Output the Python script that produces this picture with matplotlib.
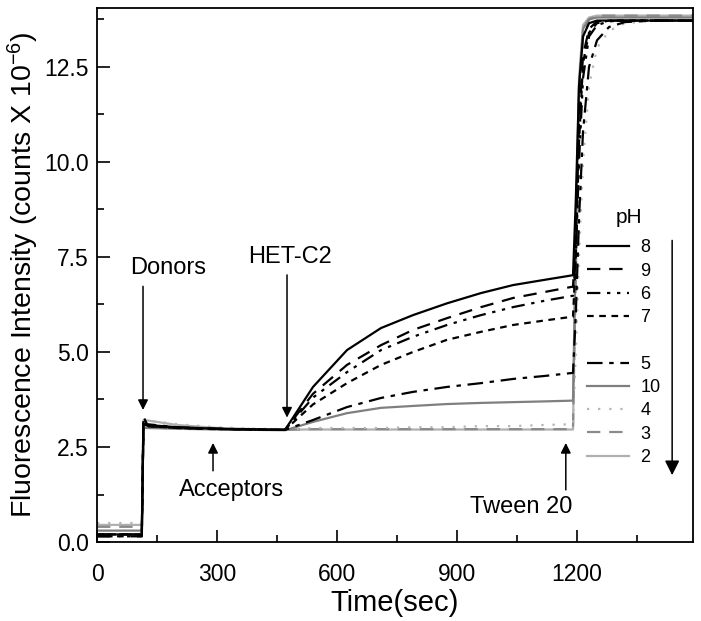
import numpy as np
import matplotlib.pyplot as plt
import matplotlib as mpl
from matplotlib.lines import Line2D

mpl.rcParams.update({'font.family': ['Liberation Sans', 'DejaVu Sans'],
                     'mathtext.fontset': 'custom',
                     'mathtext.rm': 'Liberation Sans',
                     'mathtext.it': 'Liberation Sans:italic'})

# time points (sec)
t = [0, 112, 116, 125, 200, 300, 400, 470, 540, 625, 710, 790, 875, 960, 1040, 1120, 1190,
     1197, 1205, 1215, 1230, 1250, 1280, 1320, 1400, 1490]

# fluorescence (counts x 1e-6), one list per pH
ph8 = [0.2, 0.2, 3.12, 3.08, 3.02, 2.98, 2.96, 2.95, 4.08, 5.05, 5.63, 5.97, 6.28, 6.55, 6.76, 6.90, 7.02,
       9.0, 12.0, 13.3, 13.65, 13.72, 13.72, 13.72, 13.72, 13.72]
ph9 = [0.2, 0.2, 3.10, 3.06, 3.01, 2.98, 2.96, 2.95, 3.90, 4.66, 5.18, 5.58, 5.89, 6.18, 6.42, 6.58, 6.72,
       8.0, 11.0, 12.8, 13.5, 13.7, 13.72, 13.72, 13.72, 13.72]
ph6 = [0.15, 0.15, 3.05, 3.05, 3.0, 2.97, 2.96, 2.95, 3.80, 4.47, 5.05, 5.40, 5.71, 5.97, 6.18, 6.35, 6.48,
       7.5, 10.0, 12.2, 13.3, 13.6, 13.7, 13.72, 13.72, 13.72]
ph7 = [0.2, 0.2, 3.08, 3.05, 3.0, 2.97, 2.96, 2.95, 3.62, 4.18, 4.66, 5.00, 5.32, 5.53, 5.71, 5.83, 5.93,
       7.5, 10.5, 12.6, 13.4, 13.65, 13.72, 13.72, 13.72, 13.72]
ph5 = [0.15, 0.15, 3.3, 3.1, 3.02, 2.98, 2.96, 2.95, 3.21, 3.55, 3.79, 3.95, 4.08, 4.18, 4.29, 4.37, 4.45,
       6.0, 8.5, 10.8, 12.5, 13.2, 13.55, 13.68, 13.72, 13.72]
ph10 = [0.3, 0.3, 3.0, 3.0, 2.98, 2.96, 2.95, 2.94, 3.16, 3.39, 3.53, 3.58, 3.63, 3.66, 3.68, 3.70, 3.72,
        8.0, 12.0, 13.5, 13.75, 13.8, 13.8, 13.8, 13.8, 13.8]
ph4 = [0.5, 0.5, 3.15, 3.2, 3.1, 3.02, 2.98, 2.96, 3.0, 3.0, 3.0, 3.02, 3.02, 3.05, 3.05, 3.08, 3.1,
       5.0, 7.5, 10.0, 12.0, 13.0, 13.45, 13.65, 13.72, 13.72]
ph3 = [0.4, 0.4, 3.05, 3.05, 3.0, 2.97, 2.96, 2.95, 2.97, 2.97, 2.97, 2.97, 2.97, 2.97, 2.97, 2.97, 2.97,
       7.0, 11.5, 13.3, 13.75, 13.85, 13.85, 13.85, 13.85, 13.85]
ph2 = [0.45, 0.45, 3.2, 3.2, 3.08, 3.0, 2.97, 2.96, 2.96, 2.96, 2.96, 2.96, 2.96, 2.96, 2.96, 2.96, 2.96,
       8.0, 12.2, 13.6, 13.8, 13.85, 13.85, 13.85, 13.85, 13.85]

labels = ['8', '9', '6', '7', '5', '10', '4', '3', '2']
series = [ph8, ph9, ph6, ph7, ph5, ph10, ph4, ph3, ph2]
colors = ['black', 'black', 'black', 'black', 'black', '#7f7f7f', '#b5b5b5', '#8a8a8a', '#b0b0b0']
styles = ['-', (0, (6, 4)), (0, (6, 3, 1.5, 3, 1.5, 3)), (0, (3, 2.5)), (0, (7, 3, 2, 3)),
          '-', (0, (1, 4)), (0, (6, 4)), '-']

fig = plt.figure(figsize=(7.01, 6.21), dpi=100)
ax = fig.add_axes([0.1384, 0.1272, 0.8502, 0.8599])

# draw light ones first so black sits on top
lines = {}
for i in [8, 7, 6, 5, 4, 3, 2, 1, 0]:
    ln, = ax.plot(t, series[i], color=colors[i], ls=styles[i], lw=1.6)
    lines[i] = ln

ax.set_xlim(0, 1490)
ax.set_ylim(0, 14.05)
ax.set_xticks([0, 300, 600, 900, 1200])
ax.set_xticks(np.arange(150, 1490, 300), minor=True)
ax.set_yticks([0, 2.5, 5, 7.5, 10, 12.5])
ax.set_yticklabels(['0.0', '2.5', '5.0', '7.5', '10.0', '12.5'])
ax.set_yticks(np.arange(1.25, 14, 2.5), minor=True)
ax.tick_params(which='both', direction='in', labelsize=16.5, width=1.2)
ax.tick_params(which='major', length=9, pad=6)
ax.tick_params(which='minor', length=5)
ax.tick_params(axis='x', which='major', pad=15)
for s in ax.spines.values():
    s.set_linewidth(1.3)

ax.set_xlabel('Time(sec)', fontsize=21, labelpad=2)
ax.set_ylabel(r'Fluorescence Intensity (counts X 10$^{-6}$)', fontsize=20.5, labelpad=2)

arw = dict(arrowstyle='-|>', color='black', lw=1.1, mutation_scale=15)
ax.text(177, 7.2, 'Donors', ha='center', va='center', fontsize=17)
ax.annotate('', xy=(115, 3.4), xytext=(115, 6.8), arrowprops=arw)
ax.text(482, 7.5, 'HET-C2', ha='center', va='center', fontsize=17)
ax.annotate('', xy=(475, 3.2), xytext=(475, 7.1), arrowprops=arw)
ax.text(337, 1.37, 'Acceptors', ha='center', va='center', fontsize=17)
ax.annotate('', xy=(290, 2.68), xytext=(290, 1.8), arrowprops=arw)
ax.text(1060, 0.92, 'Tween 20', ha='center', va='center', fontsize=17)
ax.annotate('', xy=(1172, 2.68), xytext=(1172, 1.3), arrowprops=arw)

# legend with a blank row between 7 and 5
blank = Line2D([], [], color='none')
handles = [lines[0], lines[1], lines[2], lines[3], blank,
           lines[4], lines[5], lines[6], lines[7], lines[8]]
names = labels[:4] + [''] + labels[4:]
ax.legend(handles, names, loc='upper left', bbox_to_anchor=(0.822, 0.567),
          frameon=False, fontsize=13, handlelength=2.35, handletextpad=0.6,
          labelspacing=0.35, borderaxespad=0, borderpad=0)
ax.text(0.893, 0.607, 'pH', transform=ax.transAxes, ha='center', va='center', fontsize=15)
ax.annotate('', xy=(0.965, 0.12), xytext=(0.965, 0.57), xycoords='axes fraction',
            arrowprops=dict(arrowstyle='-|>', color='black', lw=1.1, mutation_scale=22))

fig.savefig('out.png', dpi=100)
